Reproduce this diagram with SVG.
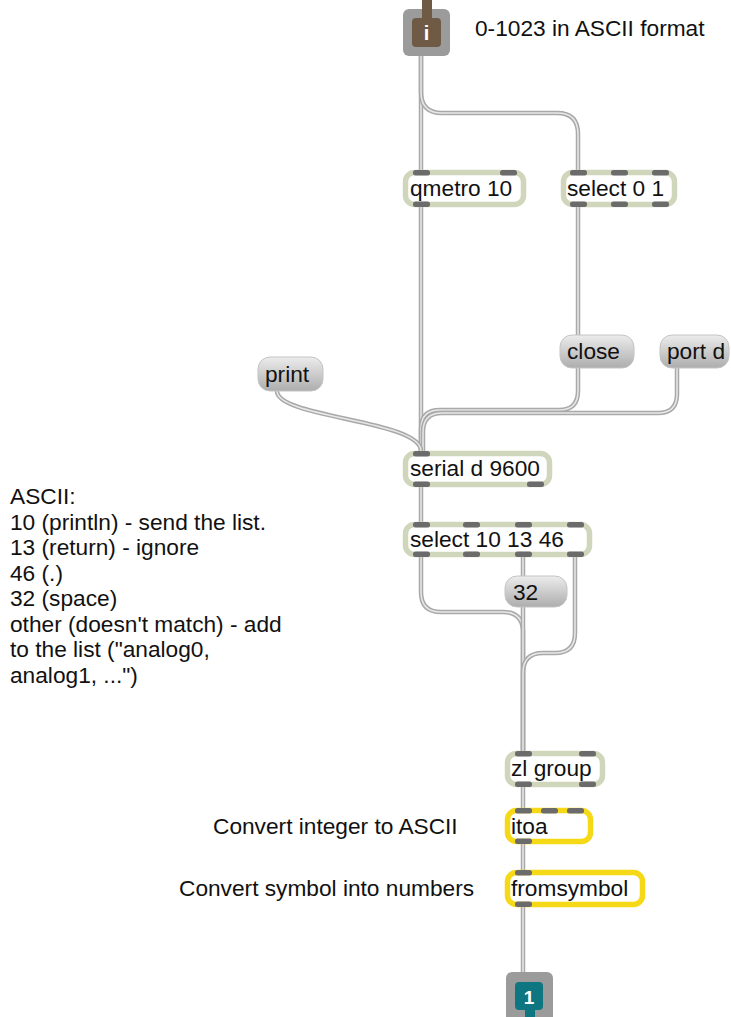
<svg xmlns="http://www.w3.org/2000/svg" width="731" height="1017" viewBox="0 0 731 1017">
<style>
text{font-family:"Liberation Sans",Arial,Helvetica,sans-serif;font-size:22.7px;fill:#111}
.obj{fill:#fff;stroke:#cfd6bb;stroke-width:5.5}
.ylw{fill:#fff;stroke:#f5d917;stroke-width:5.5}
.msg{fill:url(#mg);stroke:#c4c4c4;stroke-width:1}
.port{fill:#6b6b6b}
.wo{fill:none;stroke:#a9a9a9;stroke-width:4.5;stroke-linecap:butt}
.wi{fill:none;stroke:#e8e8e8;stroke-width:1.5}
</style>
<defs>
<linearGradient id="mg" x1="0" y1="0" x2="0" y2="1">
<stop offset="0" stop-color="#ececec"/>
<stop offset="1" stop-color="#adadad"/>
</linearGradient>
<path id="c1" d="M421,55 V170"/>
<path id="c2" d="M421,55 V92 Q421,113 442,113 H557 Q578,113 578,134 V170"/>
<path id="c3" d="M421,207 V451"/>
<path id="c4" d="M578,207 V335"/>
<path id="c5" d="M578,368 V391 Q578,410 559,410 H440 Q421,410 421,429 V451"/>
<path id="c6" d="M677,368 V394 Q677,413 658,413 H442 Q423,413 423,432 V451"/>
<path id="c7" d="M277,391 C277,418 421,420 421,451"/>
<path id="c8" d="M421,487 V522"/>
<path id="c9" d="M421,557 V592 Q421,612 441,612 H503 Q523,612 523,632 V752"/>
<path id="c10" d="M523,557 V576"/>
<path id="c11" d="M523,607 V752"/>
<path id="c12" d="M575,557 V633 Q575,653 555,653 H543 Q523,653 523,673 V752"/>
<path id="c13" d="M523,787 V808"/>
<path id="c14" d="M523,844 V870"/>
<path id="c15" d="M523,907 V972"/>
</defs>

<g id="connectors">
<use href="#c1" class="wo"/><use href="#c1" class="wi"/>
<use href="#c2" class="wo"/><use href="#c2" class="wi"/>
<use href="#c3" class="wo"/><use href="#c3" class="wi"/>
<use href="#c4" class="wo"/><use href="#c4" class="wi"/>
<use href="#c5" class="wo"/><use href="#c5" class="wi"/>
<use href="#c6" class="wo"/><use href="#c6" class="wi"/>
<use href="#c7" class="wo"/><use href="#c7" class="wi"/>
<use href="#c8" class="wo"/><use href="#c8" class="wi"/>
<use href="#c9" class="wo"/><use href="#c9" class="wi"/>
<use href="#c10" class="wo"/><use href="#c10" class="wi"/>
<use href="#c11" class="wo"/><use href="#c11" class="wi"/>
<use href="#c12" class="wo"/><use href="#c12" class="wi"/>
<use href="#c13" class="wo"/><use href="#c13" class="wi"/>
<use href="#c14" class="wo"/><use href="#c14" class="wi"/>
<use href="#c15" class="wo"/><use href="#c15" class="wi"/>
</g>

<g id="inlet">
<rect x="403" y="9" width="47" height="47" rx="6" fill="#9b9b9b"/>
<rect x="422" y="0" width="10" height="20" fill="#6f5a45"/>
<rect x="412" y="18" width="29" height="29" rx="4" fill="#6f5a45"/>
<text x="426.5" y="40" text-anchor="middle" style="fill:#fff;font-weight:bold;font-size:20px">i</text>
</g>

<g id="comment-top"><text x="475" y="36">0-1023 in ASCII format</text></g>

<g id="qmetro">
<rect class="obj" x="405.5" y="172.5" width="118" height="32" rx="9"/>
<rect class="port" x="413" y="170" width="17" height="5.5" rx="2.5"/>
<rect class="port" x="500" y="170" width="17" height="5.5" rx="2.5"/>
<rect class="port" x="413" y="201.5" width="17" height="5.5" rx="2.5"/>
<text x="410" y="196">qmetro 10</text>
</g>

<g id="select01">
<rect class="obj" x="563.5" y="172.5" width="111" height="32" rx="9"/>
<rect class="port" x="570" y="170" width="17" height="5.5" rx="2.5"/>
<rect class="port" x="611" y="170" width="17" height="5.5" rx="2.5"/>
<rect class="port" x="652" y="170" width="17" height="5.5" rx="2.5"/>
<rect class="port" x="570" y="201.5" width="17" height="5.5" rx="2.5"/>
<rect class="port" x="611" y="201.5" width="17" height="5.5" rx="2.5"/>
<rect class="port" x="652" y="201.5" width="17" height="5.5" rx="2.5"/>
<text x="567" y="196">select 0 1</text>
</g>

<g id="close">
<rect class="msg" x="560" y="335" width="74" height="33" rx="12"/>
<text x="567" y="359">close</text>
</g>

<g id="portd">
<rect class="msg" x="660" y="335" width="69" height="33" rx="12"/>
<text x="667" y="359">port d</text>
</g>

<g id="print">
<rect class="msg" x="258" y="357" width="65" height="34" rx="12"/>
<text x="265" y="382">print</text>
</g>

<g id="serial">
<rect class="obj" x="405.5" y="453.5" width="144" height="31" rx="9"/>
<rect class="port" x="413" y="451" width="17" height="5.5" rx="2.5"/>
<rect class="port" x="413" y="481.5" width="17" height="5.5" rx="2.5"/>
<rect class="port" x="527" y="481.5" width="17" height="5.5" rx="2.5"/>
<text x="410" y="476">serial d 9600</text>
</g>

<g id="select101346">
<rect class="obj" x="405.5" y="524.5" width="184" height="30" rx="9"/>
<rect class="port" x="413" y="522" width="17" height="5.5" rx="2.5"/>
<rect class="port" x="463" y="522" width="17" height="5.5" rx="2.5"/>
<rect class="port" x="515" y="522" width="17" height="5.5" rx="2.5"/>
<rect class="port" x="567" y="522" width="17" height="5.5" rx="2.5"/>
<rect class="port" x="413" y="551.5" width="17" height="5.5" rx="2.5"/>
<rect class="port" x="463" y="551.5" width="17" height="5.5" rx="2.5"/>
<rect class="port" x="515" y="551.5" width="17" height="5.5" rx="2.5"/>
<rect class="port" x="567" y="551.5" width="17" height="5.5" rx="2.5"/>
<text x="410" y="547">select 10 13 46</text>
</g>

<g id="msg32">
<rect class="msg" x="505" y="576" width="62" height="31" rx="12"/>
<text x="513" y="600">32</text>
</g>

<g id="ascii-comment">
<text x="10" y="504">ASCII:</text>
<text x="10" y="529.5">10 (println) - send the list.</text>
<text x="10" y="555">13 (return) - ignore</text>
<text x="10" y="580.5">46 (.)</text>
<text x="10" y="606">32 (space)</text>
<text x="10" y="631.5">other (doesn't match) - add</text>
<text x="10" y="657">to the list ("analog0,</text>
<text x="10" y="682.5">analog1, ...")</text>
</g>

<g id="zlgroup">
<rect class="obj" x="507.5" y="753.5" width="95" height="31" rx="9"/>
<rect class="port" x="515" y="751" width="17" height="5.5" rx="2.5"/>
<rect class="port" x="579" y="751" width="17" height="5.5" rx="2.5"/>
<rect class="port" x="515" y="781.5" width="17" height="5.5" rx="2.5"/>
<rect class="port" x="579" y="781.5" width="17" height="5.5" rx="2.5"/>
<text x="511" y="776">zl group</text>
</g>

<g id="itoa">
<rect class="ylw" x="507.5" y="810.5" width="83" height="31" rx="9"/>
<rect class="port" x="515" y="808" width="17" height="5.5" rx="2.5"/>
<rect class="port" x="541" y="808" width="17" height="5.5" rx="2.5"/>
<rect class="port" x="567" y="808" width="17" height="5.5" rx="2.5"/>
<rect class="port" x="515" y="838.5" width="17" height="5.5" rx="2.5"/>
<text x="511" y="834">itoa</text>
</g>
<g id="itoa-comment"><text x="213" y="834">Convert integer to ASCII</text></g>

<g id="fromsymbol">
<rect class="ylw" x="507.5" y="872.5" width="135" height="32" rx="9"/>
<rect class="port" x="515" y="870" width="17" height="5.5" rx="2.5"/>
<rect class="port" x="515" y="901.5" width="17" height="5.5" rx="2.5"/>
<text x="511" y="896">fromsymbol</text>
</g>
<g id="fromsymbol-comment"><text x="179" y="896">Convert symbol into numbers</text></g>

<g id="outlet">
<rect x="506" y="972" width="47" height="50" rx="6" fill="#9b9b9b"/>
<rect x="525" y="1000" width="10" height="17" fill="#0e7680"/>
<rect x="515" y="982" width="28" height="28" rx="4" fill="#0e7680"/>
<text x="529" y="1004" text-anchor="middle" style="fill:#fff;font-weight:bold;font-size:19px">1</text>
</g>
</svg>
